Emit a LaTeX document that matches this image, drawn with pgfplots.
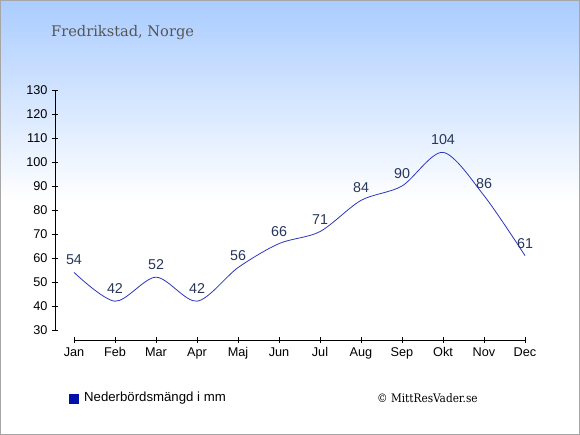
\documentclass[border=0pt]{standalone}
\usepackage{pgfplots}
\pgfplotsset{compat=1.18}
\usepackage{fontspec}
\setmainfont{Liberation Sans}
\newfontfamily\seriffont{DejaVu Serif}
\newfontfamily\copyfont{DejaVu Serif Condensed}
\definecolor{bgtop}{RGB}{170,204,255}
\definecolor{linec}{RGB}{45,55,190}
\definecolor{labc}{RGB}{40,55,90}
\definecolor{legc}{RGB}{0,17,170}
\definecolor{titc}{RGB}{85,85,85}
\pgfplotstableread{
x y
0 54
1 42
2 52
3 42
4 56
5 66
6 71
7 84
8 90
9 104
10 86
11 61
}\datatable
\begin{document}
\begin{tikzpicture}[x=1pt,y=1pt]
\fill[white] (0,0) rectangle (580,435);
\shade[top color=bgtop, bottom color=white] (0,235) rectangle (580,435);
\draw[gray!70, line width=1pt] (0.5,0.5) rectangle (579.5,434.5);
\node[anchor=base west, font=\seriffont\fontsize{14.6}{18}\selectfont, text=titc, inner sep=0] at (51,398) {Fredrikstad, Norge};
\begin{axis}[
  at={(55pt,95pt)}, anchor=south west,
  scale only axis, width=470pt, height=250pt,
  xmin=-0.46341, xmax=11, ymin=25.8333, ymax=130,
  axis line style={draw=none},
  axis lines=left,
  clip=false,
  xtick={0,...,11},
  xticklabels={Jan,Feb,Mar,Apr,Maj,Jun,Jul,Aug,Sep,Okt,Nov,Dec},
  ytick={30,40,...,130},
  tick align=center,
  major tick length=6pt,
  tick style={black, line width=0.8pt},
  ticklabel style={font=\fontsize{12.7}{14}\selectfont},
  /pgf/number format/assume math mode=true,
  y tick label style={xshift=-1pt},
  x tick label style={yshift=-1pt},
]
\draw[black, line width=0.8pt] (axis cs:-0.46341,30) -- (axis cs:-0.46341,130);
\draw[black, line width=0.8pt] (axis cs:0,25.8333) -- (axis cs:11,25.8333);
\addplot[linec, line width=0.8pt, smooth, tension=0.5, no marks,
  nodes near coords,
  every node near coord/.style={font=\fontsize{14.3}{16}\selectfont, text=labc, anchor=center, yshift=12.5pt}]
  table[x=x,y=y] {\datatable};
\end{axis}
\fill[legc] (69,31) rectangle (79,41);
\node[anchor=west, font=\fontsize{13.2}{15}\selectfont, inner sep=0] at (84,37) {Nederbördsmängd i mm};
\node[anchor=west, font=\copyfont\fontsize{11.7}{14}\selectfont, inner sep=0] at (377,37) {© MittResVader.se};
\end{tikzpicture}
\end{document}
